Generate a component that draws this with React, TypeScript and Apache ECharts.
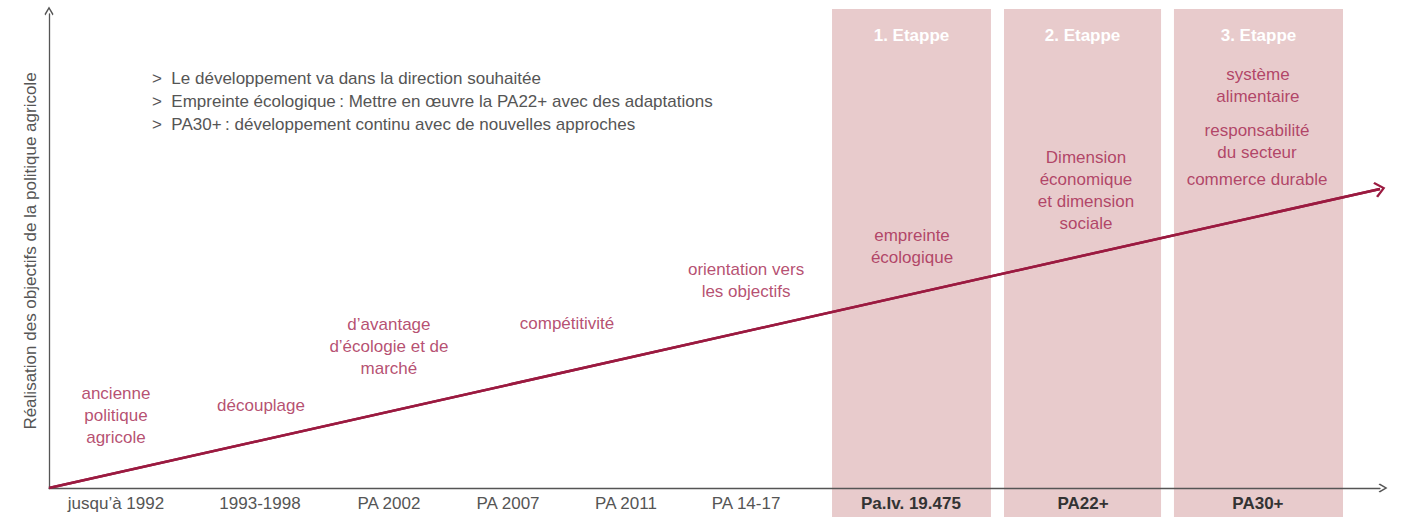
import React, { useEffect, useRef } from 'react';
import * as echarts from 'echarts';

const FONT = '"Liberation Sans", Arial, Helvetica, sans-serif';

// Periods along the timeline (x in timeline units 0..100)
const periods = ['jusqu\u2019à 1992', '1993-1998', 'PA 2002', 'PA 2007', 'PA 2011', 'PA 14-17', 'Pa.Iv. 19.475', 'PA22+', 'PA30+'];
const periodPos = [5.03, 15.85, 25.54, 34.49, 43.35, 52.37, 64.76, 77.69, 90.83];
const stagePeriodFrom = 6; // periods from this index belong to the stages (bold)

// Stages (shaded bands)
const stages = ['1. Etappe', '2. Etappe', '3. Etappe'];
const stageStart = [58.83, 71.75, 84.52];
const stageEnd = [70.77, 83.55, 97.22];

// Trend arrow
const trendX = [0, 100];
const trendY = [0, 63.1];

// Annotations
const noteTexts = [
  'ancienne\npolitique\nagricole',
  'découplage',
  'd\u2019avantage\nd\u2019écologie et de\nmarché',
  'compétitivité',
  'orientation vers\nles objectifs',
  'empreinte\nécologique',
  'Dimension\néconomique\net dimension\nsociale',
  'système\nalimentaire',
  'responsabilité\ndu secteur',
  'commerce durable',
];
const noteX = [5.03, 15.93, 25.54, 38.92, 52.37, 64.84, 77.91, 90.83, 90.76, 90.76];
const noteY = [15.4, 17.3, 29.75, 34.6, 43.88, 51.05, 62.66, 84.92, 73.0, 64.98];

const legendLines = [
  'Le développement va dans la direction souhaitée',
  'Empreinte écologique\u2009: Mettre en œuvre la PA22+ avec des adaptations',
  'PA30+\u2009: développement continu avec de nouvelles approches',
];

const yAxisTitle = 'Réalisation des objectifs de la politique agricole';

const RED = '#9b1a40';
const RED_TEXT = '#a3224c';
const BAND = '#e8cbcc';
const AXIS = '#555555';
const CHEVRON = 'path://M0,84 L50,0 L100,84 L90,100 L50,30 L10,100 Z';

export default function App() {
  const ref = useRef<HTMLDivElement>(null);
  useEffect(() => {
    const chart = echarts.init(ref.current!, null, { renderer: 'svg' });
    const option: any = {
      animation: false,
      backgroundColor: '#ffffff',
      textStyle: { fontFamily: FONT },
      grid: { left: 49, right: 24, top: 14, bottom: 29, containLabel: false },
      xAxis: {
        type: 'value',
        min: 0,
        max: 100,
        z: 5,
        axisLine: {
          show: true,
          symbol: ['none', CHEVRON],
          symbolSize: [14, 9],
          symbolOffset: [0, 3],
          lineStyle: { color: AXIS, width: 1.3 },
        },
        axisTick: { show: false },
        splitLine: { show: false },
        axisLabel: {
          show: true,
          customValues: periodPos,
          margin: 7,
          color: '#555',
          fontSize: 17,
          fontFamily: FONT,
          formatter: (v: number) => {
            let best = 0;
            for (let i = 0; i < periodPos.length; i++) {
              if (Math.abs(periodPos[i] - v) < Math.abs(periodPos[best] - v)) best = i;
            }
            return best >= stagePeriodFrom ? '{b|' + periods[best] + '}' : periods[best];
          },
          rich: { b: { fontWeight: 'bold', color: '#333', fontSize: 17, fontFamily: FONT } },
        },
      },
      yAxis: {
        type: 'value',
        min: 0,
        max: 100,
        z: 5,
        name: yAxisTitle,
        nameLocation: 'middle',
        nameGap: 10,
        nameTextStyle: { color: '#555', fontSize: 17, fontFamily: FONT },
        axisLine: {
          show: true,
          symbol: ['none', CHEVRON],
          symbolSize: [14, 9],
          symbolOffset: [0, 3],
          lineStyle: { color: AXIS, width: 1.3 },
        },
        axisTick: { show: false },
        splitLine: { show: false },
        axisLabel: { show: false },
      },
      graphic: [
        {
          type: 'text',
          left: 152,
          top: 67,
          z: 10,
          style: {
            text: legendLines.map((l) => '>\u00a0\u00a0' + l).join('\n'),
            fill: '#555',
            fontSize: 17,
            lineHeight: 23,
            fontFamily: FONT,
          },
        },
      ],
      series: [
        {
          type: 'custom',
          z: 1,
          clip: false,
          silent: true,
          data: stages.map((s, i) => [stageStart[i], stageEnd[i], s]),
          renderItem: (params: any, api: any) => {
            const cs = params.coordSys;
            const p0 = api.coord([api.value(0), 0]);
            const p1 = api.coord([api.value(1), 0]);
            const name = stages[params.dataIndex];
            return {
              type: 'group',
              children: [
                {
                  type: 'rect',
                  shape: { x: p0[0], y: cs.y - 5, width: p1[0] - p0[0], height: 600 },
                  style: { fill: BAND },
                },
                {
                  type: 'text',
                  x: (p0[0] + p1[0]) / 2,
                  y: cs.y + 21,
                  style: {
                    text: name,
                    fill: '#ffffff',
                    fontSize: 17,
                    fontWeight: 'bold',
                    fontFamily: FONT,
                    align: 'center',
                    verticalAlign: 'middle',
                  },
                },
              ],
            };
          },
        },
        {
          type: 'line',
          z: 6,
          silent: true,
          showSymbol: false,
          symbol: 'none',
          data: trendX.map((x, i) => [x, trendY[i]]),
          lineStyle: { color: RED, width: 2.5 },
          markLine: {
            silent: true,
            symbol: ['none', CHEVRON],
            symbolSize: [16, 11],
            label: { show: false },
            lineStyle: { color: RED, width: 2.5, type: 'solid' },
            data: [[{ coord: [trendX[0], trendY[0]] }, { coord: [trendX[1], trendY[1]] }]],
          },
        },
        {
          type: 'scatter',
          z: 7,
          silent: true,
          symbolSize: 0,
          itemStyle: { color: 'rgba(0,0,0,0)' },
          data: noteTexts.map((t, i) => ({ value: [noteX[i], noteY[i]], name: t })),
          label: {
            show: true,
            position: 'inside',
            formatter: '{b}',
            color: RED_TEXT,
            fontSize: 17,
            lineHeight: 22,
            align: 'center',
            verticalAlign: 'middle',
            fontFamily: FONT,
          },
        },
      ],
    };
    chart.setOption(option);
    return () => chart.dispose();
  }, []);
  return (
    <div
      ref={ref}
      style={{ position: 'fixed', left: 0, top: 0, width: 1404, height: 517, background: '#fff' }}
    />
  );
}
